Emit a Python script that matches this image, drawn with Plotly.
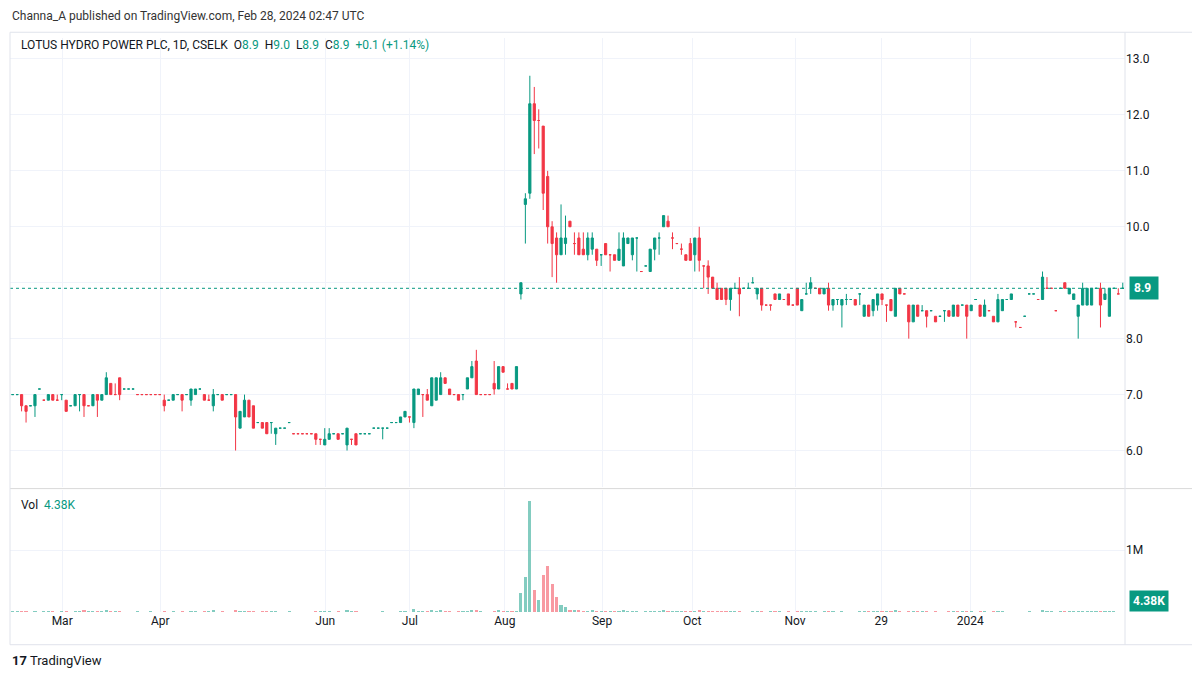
import plotly.graph_objects as go

# OHLC values, one bar per trading day (Feb 2023 - Feb 2024)
opens = [7.0, 7.0, 7.0, 6.8, 6.8, 6.8, 7.1, 6.9, 6.9, 7.0,
         6.9, 7.0, 6.9, 6.8, 6.8, 7.0, 7.0, 6.8, 6.8, 7.0,
         6.9, 7.0, 7.2, 7.0, 7.3, 7.1, 7.1, 7.1, 7.0, 7.0,
         7.0, 7.0, 7.0, 7.0,
         6.9, 6.9, 6.9, 7.0, 7.0, 7.0, 6.9, 7.0, 7.1, 7.0,
         6.9, 6.8, 7.0, 7.0, 7.0, 7.0, 7.0, 6.4, 6.6, 6.9,
         6.8, 6.5, 6.5, 6.5, 6.5, 6.3, 6.4, 6.4, 6.5, 6.3,
         6.3, 6.3,
         6.3, 6.3, 6.3, 6.2, 6.1, 6.2, 6.3, 6.3, 6.3, 6.1,
         6.2, 6.3, 6.3, 6.3, 6.3, 6.4, 6.4, 6.4, 6.4, 6.5,
         6.5, 6.5, 6.6, 6.6, 6.5, 7.0, 7.0, 7.0, 6.8, 6.9,
         7.0, 7.3, 7.1, 7.0, 7.0, 7.0, 7.1, 7.3, 7.6, 7.0,
         7.0, 7.0, 7.2, 7.1, 7.5, 7.1, 7.2, 7.1, 8.8, 10.4,
         10.6, 12.2, 11.9, 11.8, 10.9, 10.0, 9.8, 9.5, 9.7, 10.1,
         9.7, 9.8, 9.6, 9.5, 9.6, 9.6, 9.5, 9.7, 9.5, 9.5,
         9.4, 9.3, 9.7, 9.5, 9.8, 9.2, 9.3, 9.2, 9.6, 9.8,
         10.0, 10.1, 9.8, 9.7, 9.6, 9.5, 9.7, 9.5, 9.8, 9.3,
         9.3, 9.1, 8.9, 8.9, 8.9, 8.7, 8.9, 8.9, 8.9, 8.9,
         9.0, 8.8, 8.9, 8.6, 8.6, 8.8, 8.7, 8.7, 8.8, 8.6,
         8.9, 8.5, 8.8, 8.9, 8.9, 8.9, 8.8, 8.9, 8.6, 8.7,
         8.6, 8.7, 8.7, 8.7, 8.8, 8.4, 8.6, 8.5,
         8.6, 8.8, 8.6, 8.7, 8.4, 8.9, 8.8, 8.6, 8.3, 8.6,
         8.5, 8.5, 8.5, 8.4, 8.4, 8.5, 8.5, 8.4, 8.6, 8.6,
         8.6, 8.5, 8.7, 8.6, 8.4, 8.5, 8.4, 8.3, 8.5, 8.7,
         8.7, 8.3, 8.2, 8.4, 8.8, 8.8, 8.7, 8.7, 8.9, 8.9,
         8.5, 8.9, 9.0, 8.8, 8.7, 8.4, 8.6, 8.6, 8.6,
         8.9, 8.9, 8.7, 8.4, 8.9, 8.8, 8.9]
highs = [7.0, 7.0, 7.0, 6.8, 6.8, 7.0, 7.1, 6.9, 7.0, 7.0,
         7.0, 7.0, 6.9, 6.8, 7.0, 7.0, 7.0, 6.8, 7.0, 7.0,
         7.0, 7.4, 7.2, 7.2, 7.3, 7.1, 7.1, 7.1, 7.0, 7.0,
         7.0, 7.0, 7.0, 7.0,
         7.0, 6.9, 7.0, 7.0, 7.0, 7.0, 7.1, 7.1, 7.1, 7.0,
         7.0, 7.1, 7.0, 7.0, 7.0, 7.0, 7.0, 6.7, 7.0, 6.9,
         6.8, 6.5, 6.5, 6.5, 6.5, 6.4, 6.4, 6.4, 6.5, 6.3,
         6.3, 6.3,
         6.3, 6.3, 6.3, 6.2, 6.4, 6.4, 6.3, 6.3, 6.3, 6.4,
         6.2, 6.3, 6.3, 6.3, 6.3, 6.4, 6.4, 6.4, 6.4, 6.5,
         6.5, 6.6, 6.7, 6.6, 7.1, 7.1, 7.0, 7.1, 7.3, 7.3,
         7.4, 7.3, 7.1, 7.0, 7.0, 7.0, 7.3, 7.6, 7.8, 7.0,
         7.0, 7.0, 7.6, 7.5, 7.5, 7.2, 7.2, 7.5, 9.0, 10.6,
         12.7, 12.5, 12.1, 11.8, 11.0, 10.1, 9.9, 10.4, 10.2, 10.1,
         9.9, 9.9, 9.9, 9.9, 9.9, 9.6, 9.5, 9.7, 9.5, 9.5,
         9.9, 9.9, 9.8, 9.8, 9.8, 9.2, 9.3, 9.6, 9.8, 9.9,
         10.2, 10.2, 9.9, 9.7, 9.7, 9.5, 9.8, 9.8, 10.0, 9.3,
         9.4, 9.1, 9.0, 8.9, 8.9, 8.9, 9.0, 9.1, 8.9, 9.0,
         9.1, 8.9, 8.9, 8.6, 8.6, 8.8, 8.8, 8.7, 8.8, 8.6,
         8.9, 8.7, 9.0, 9.1, 8.9, 8.9, 8.9, 9.0, 8.7, 8.7,
         8.7, 8.8, 8.7, 8.7, 8.8, 8.6, 8.6, 8.7,
         8.8, 8.8, 8.6, 8.7, 8.9, 8.9, 8.8, 8.6, 8.6, 8.6,
         8.6, 8.5, 8.5, 8.4, 8.4, 8.5, 8.5, 8.6, 8.6, 8.6,
         8.6, 8.6, 8.7, 8.6, 8.7, 8.5, 8.4, 8.8, 8.7, 8.7,
         8.8, 8.3, 8.2, 8.4, 8.8, 8.8, 8.7, 9.2, 9.1, 8.9,
         8.5, 8.9, 9.0, 8.9, 8.8, 8.6, 9.0, 8.9, 8.9,
         8.9, 9.0, 8.9, 8.9, 8.9, 8.9, 9.0]
lows = [7.0, 7.0, 6.7, 6.5, 6.8, 6.6, 7.1, 6.9, 6.9, 6.9,
        6.9, 6.9, 6.7, 6.8, 6.8, 6.7, 6.6, 6.8, 6.8, 6.6,
        6.9, 7.0, 7.0, 7.0, 6.9, 7.1, 7.1, 7.1, 7.0, 7.0,
        7.0, 7.0, 7.0, 7.0,
        6.7, 6.9, 6.9, 7.0, 6.7, 7.0, 6.8, 7.0, 7.1, 6.9,
        6.9, 6.7, 7.0, 6.9, 7.0, 7.0, 6.0, 6.4, 6.6, 6.6,
        6.4, 6.5, 6.4, 6.3, 6.3, 6.1, 6.4, 6.4, 6.5, 6.3,
        6.3, 6.3,
        6.3, 6.3, 6.1, 6.1, 6.1, 6.2, 6.3, 6.2, 6.3, 6.0,
        6.1, 6.1, 6.3, 6.3, 6.3, 6.4, 6.4, 6.2, 6.4, 6.5,
        6.5, 6.5, 6.6, 6.5, 6.4, 7.0, 6.6, 6.9, 6.8, 6.9,
        7.0, 7.2, 7.0, 7.0, 6.9, 6.9, 7.1, 7.3, 7.0, 7.0,
        7.0, 7.0, 7.0, 7.1, 7.4, 7.1, 7.1, 7.1, 8.7, 9.7,
        10.5, 11.3, 11.4, 10.3, 9.7, 9.1, 9.0, 9.5, 9.5, 10.0,
        9.5, 9.5, 9.5, 9.4, 9.5, 9.3, 9.3, 9.5, 9.2, 9.4,
        9.4, 9.3, 9.7, 9.4, 9.2, 9.2, 9.3, 9.2, 9.4, 9.5,
        10.0, 10.0, 9.6, 9.7, 9.5, 9.4, 9.4, 9.2, 9.2, 8.9,
        8.8, 8.9, 8.7, 8.7, 8.6, 8.5, 8.9, 8.4, 8.9, 8.9,
        9.0, 8.7, 8.5, 8.6, 8.5, 8.7, 8.7, 8.7, 8.6, 8.6,
        8.6, 8.5, 8.8, 8.8, 8.9, 8.8, 8.8, 8.5, 8.5, 8.6,
        8.2, 8.6, 8.7, 8.7, 8.6, 8.4, 8.4, 8.4,
        8.5, 8.6, 8.3, 8.5, 8.4, 8.8, 8.8, 8.0, 8.3, 8.4,
        8.5, 8.2, 8.5, 8.3, 8.4, 8.3, 8.4, 8.4, 8.4, 8.6,
        8.0, 8.5, 8.7, 8.4, 8.4, 8.5, 8.3, 8.3, 8.5, 8.7,
        8.7, 8.2, 8.2, 8.4, 8.8, 8.8, 8.7, 8.7, 8.9, 8.9,
        8.5, 8.9, 8.9, 8.8, 8.7, 8.0, 8.6, 8.6, 8.6,
        8.9, 8.2, 8.7, 8.4, 8.9, 8.8, 8.9]
closes = [7.0, 7.0, 6.8, 6.7, 6.8, 7.0, 7.1, 6.9, 7.0, 6.9,
          6.9, 7.0, 6.7, 6.8, 7.0, 7.0, 6.8, 6.8, 7.0, 6.9,
          7.0, 7.3, 7.0, 7.0, 7.0, 7.1, 7.1, 7.1, 7.0, 7.0,
          7.0, 7.0, 7.0, 7.0,
          6.8, 6.9, 7.0, 7.0, 6.9, 7.0, 7.1, 7.1, 7.1, 6.9,
          6.9, 7.0, 7.0, 6.9, 7.0, 7.0, 6.6, 6.7, 6.9, 6.6,
          6.4, 6.5, 6.4, 6.3, 6.5, 6.4, 6.4, 6.4, 6.5, 6.3,
          6.3, 6.3,
          6.3, 6.3, 6.2, 6.2, 6.2, 6.3, 6.3, 6.2, 6.3, 6.4,
          6.2, 6.1, 6.3, 6.3, 6.3, 6.4, 6.4, 6.4, 6.4, 6.5,
          6.5, 6.6, 6.7, 6.6, 7.1, 7.1, 7.0, 6.9, 7.3, 7.3,
          7.3, 7.2, 7.0, 7.0, 6.9, 7.0, 7.3, 7.5, 7.0, 7.0,
          7.0, 7.0, 7.1, 7.5, 7.4, 7.1, 7.1, 7.5, 9.0, 10.5,
          12.2, 11.9, 11.9, 10.6, 10.0, 9.7, 9.5, 9.8, 9.8, 10.0,
          9.7, 9.5, 9.5, 9.8, 9.8, 9.4, 9.5, 9.5, 9.5, 9.4,
          9.6, 9.8, 9.8, 9.8, 9.8, 9.2, 9.3, 9.6, 9.8, 9.8,
          10.2, 10.0, 9.8, 9.7, 9.6, 9.4, 9.4, 9.8, 9.4, 9.3,
          9.1, 8.9, 8.7, 8.7, 8.7, 8.9, 8.9, 8.8, 8.9, 8.9,
          9.0, 8.9, 8.6, 8.6, 8.6, 8.7, 8.8, 8.7, 8.6, 8.6,
          8.6, 8.7, 8.8, 9.0, 8.9, 8.8, 8.9, 8.6, 8.7, 8.7,
          8.7, 8.7, 8.7, 8.6, 8.8, 8.6, 8.4, 8.7,
          8.8, 8.7, 8.6, 8.5, 8.9, 8.8, 8.8, 8.3, 8.6, 8.4,
          8.5, 8.4, 8.5, 8.3, 8.4, 8.5, 8.4, 8.6, 8.4, 8.6,
          8.4, 8.6, 8.7, 8.4, 8.6, 8.5, 8.3, 8.7, 8.7, 8.7,
          8.8, 8.3, 8.2, 8.4, 8.8, 8.8, 8.7, 9.1, 8.9, 8.9,
          8.5, 8.9, 8.9, 8.9, 8.8, 8.6, 8.9, 8.9, 8.9,
          8.9, 8.6, 8.8, 8.9, 8.9, 8.8, 8.9]
# volume in thousands of shares
volumes_k = [12, 8, 15, 20, 6, 18, 5, 9, 14, 10,
             7, 11, 22, 6, 16, 12, 25, 8, 14, 19,
             9, 30, 17, 8, 21, 6, 5, 7, 9, 6,
             6, 8, 5, 7,
             18, 5, 14, 7, 16, 6, 20, 12, 5, 10,
             8, 24, 7, 11, 6, 5, 28, 19, 22, 15,
             20, 6, 14, 18, 9, 16, 5, 6, 8, 5,
             5, 6,
             7, 6, 13, 8, 17, 10, 6, 12, 5, 25,
             9, 14, 6, 5, 7, 6, 5, 8, 6, 7,
             5, 12, 15, 7, 45, 20, 9, 14, 30, 22,
             26, 10, 12, 6, 11, 8, 18, 24, 32, 9,
             7, 6, 20, 28, 15, 8, 10, 22, 300, 560,
             1790, 350, 200, 600, 750, 450, 250, 120, 80, 40,
             25, 30, 18, 22, 26, 15, 12, 20, 14, 10,
             16, 24, 12, 18, 10, 6, 8, 15, 20, 12,
             35, 22, 10, 8, 9, 14, 16, 20, 25, 18,
             20, 15, 12, 10, 14, 18, 8, 22, 6, 7,
             9, 12, 16, 6, 8, 10, 12, 6, 9, 7,
             14, 10, 12, 20, 8, 6, 10, 12, 9, 6,
             18, 7, 6, 5, 8, 20, 14, 12,
             16, 10, 8, 12, 30, 10, 6, 18, 14, 10,
             8, 12, 6, 9, 5, 7, 8, 14, 10, 8,
             16, 12, 6, 10, 14, 5, 8, 20, 12, 6,
             7, 5, 6, 5, 8, 6, 5, 24, 10, 8,
             5, 9, 14, 10, 12, 20, 18, 12, 9,
             8, 16, 10, 15, 8, 5, 4.38]

# month labels and where they fall on the bar index axis
tick_pos = [11.1, 33.1, 70.1, 89.1, 110.4, 132.2, 152.4, 175.5, 194.8, 214.8]
tick_text = ["Mar", "Apr", "Jun", "Jul", "Aug", "Sep", "Oct", "Nov", "29", "2024"]
price_ticks = [6.0, 7.0, 8.0, 9.0, 10.0, 11.0, 12.0, 13.0]

UP = "#089981"
DOWN = "#f23645"
idx = list(range(len(closes)))
vol = [v * 1000 for v in volumes_k]
vol_colors = ["rgba(8,153,129,0.5)" if c >= o else "rgba(242,54,69,0.5)"
              for o, c in zip(opens, closes)]

fig = go.Figure()
fig.add_trace(go.Candlestick(
    x=idx, open=opens, high=highs, low=lows, close=closes,
    increasing=dict(line=dict(color=UP, width=1), fillcolor=UP),
    decreasing=dict(line=dict(color=DOWN, width=1), fillcolor=DOWN),
    whiskerwidth=0, yaxis="y", xaxis="x", hoverinfo="skip",
))
fig.add_trace(go.Bar(x=idx, y=vol, marker_color=vol_colors, marker_line_width=0,
                     width=0.7, yaxis="y2", xaxis="x"))

last = closes[-1]
fig.add_shape(type="line", xref="paper", x0=0, x1=1, yref="y", y0=last, y1=last,
              line=dict(color=UP, width=1, dash="dot"))
# pane separator and frame
fig.add_shape(type="line", xref="paper", x0=0, x1=1.067, yref="paper", y0=0.215, y1=0.215,
              line=dict(color="#d9d9d9", width=1))
fig.add_shape(type="rect", xref="paper", yref="paper", x0=0, x1=1.067, y0=-0.057, y1=1.01,
              line=dict(color="#e0e3eb", width=1))
fig.add_shape(type="line", xref="paper", x0=1.0, x1=1.0, yref="paper", y0=-0.057, y1=1.01,
              line=dict(color="#e0e3eb", width=1))

fig.update_layout(
    width=1184, height=663,
    margin=dict(l=2, r=67, t=30, b=59),
    paper_bgcolor="white", plot_bgcolor="white",
    showlegend=False, bargap=0,
    font=dict(family="Roboto, DejaVu Sans, sans-serif", size=12, color="#131722"),
    xaxis=dict(range=[-0.6, len(closes) - 0.5], tickvals=tick_pos, ticktext=tick_text,
               anchor="y2", showgrid=True, gridcolor="#f0f3fa", zeroline=False,
               rangeslider=dict(visible=False), ticks="", ticklen=0,
               tickfont=dict(size=12, color="#131722"), showline=False),
    yaxis=dict(domain=[0.217, 1], range=[5.34, 13.375], side="right",
               tickvals=price_ticks,
               ticktext=["" if v == 9.0 else f"{v:.1f}" for v in price_ticks],
               showgrid=True, gridcolor="#f0f3fa", zeroline=False,
               tickfont=dict(size=12, color="#131722")),
    yaxis2=dict(domain=[0, 0.2125], range=[0, 1.97e6], side="right",
                tickvals=[1e6], ticktext=["1M"], showgrid=True, gridcolor="#f0f3fa",
                zeroline=False, tickfont=dict(size=12, color="#131722")),
)

g = f'<span style="color:{UP}">'
fig.add_annotation(xref="paper", yref="paper", x=0, y=1.038, xanchor="left", yanchor="middle",
                   text="Channa_A published on TradingView.com, Feb 28, 2024 02:47 UTC",
                   showarrow=False, font=dict(size=12, color="#333333"))
fig.add_annotation(xref="paper", yref="paper", x=0.008, y=0.988, xanchor="left", yanchor="middle",
                   text=f"LOTUS HYDRO POWER PLC, 1D, CSELK  O{g}8.9</span>  H{g}9.0</span>  "
                        f"L{g}8.9</span>  C{g}8.9</span>  {g}+0.1 (+1.14%)</span>",
                   showarrow=False, font=dict(size=12, color="#131722"))
fig.add_annotation(xref="paper", yref="paper", x=0.008, y=0.186, xanchor="left", yanchor="middle",
                   text=f"Vol  {g}4.38K</span>", showarrow=False, font=dict(size=12, color="#131722"))
fig.add_annotation(xref="paper", yref="y", x=1.004, y=last, xanchor="left", yanchor="middle",
                   text=f"<b>{last}</b> ", showarrow=False, bgcolor=UP, borderpad=4,
                   font=dict(size=12, color="white"))
fig.add_annotation(xref="paper", yref="y2", x=1.004, y=vol[-1], xanchor="left", yanchor="bottom",
                   text="<b>4.38K</b>", showarrow=False, bgcolor=UP, borderpad=3,
                   font=dict(size=12, color="white"))
fig.add_annotation(xref="paper", yref="paper", x=0, y=-0.085, xanchor="left", yanchor="middle",
                   text="<b>17</b> TradingView", showarrow=False, font=dict(size=13, color="#131722"))

fig.write_html("out.html")
